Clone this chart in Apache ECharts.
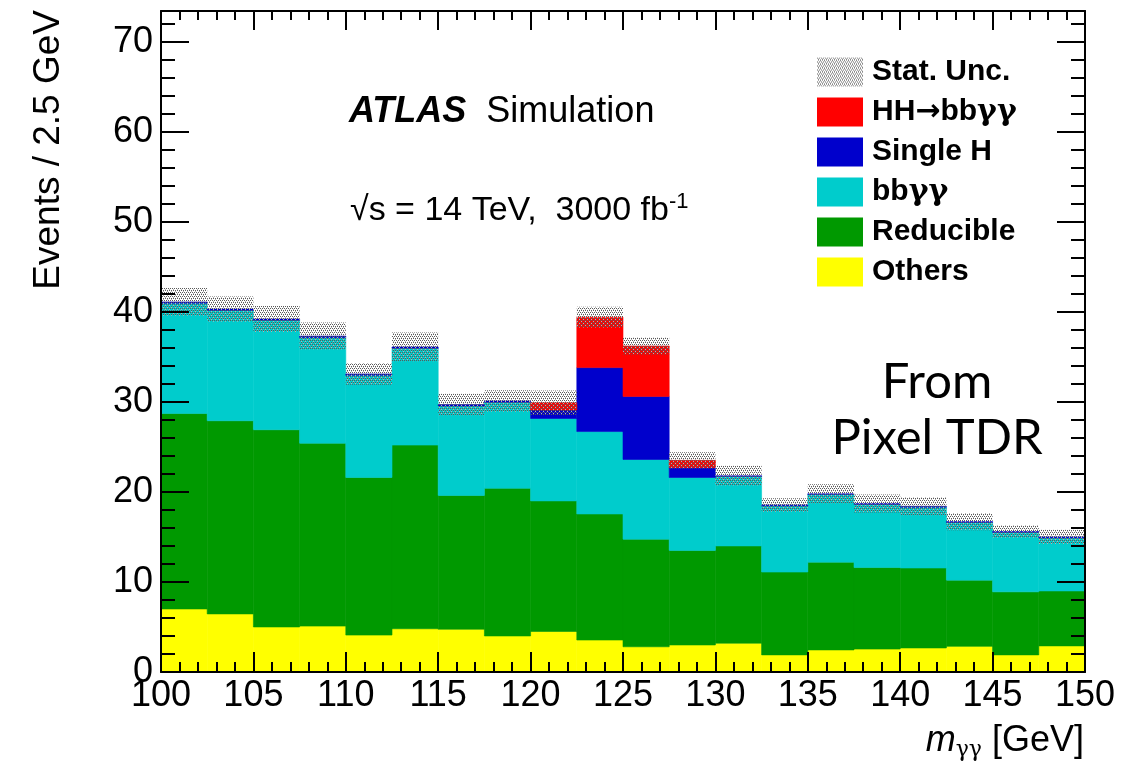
<!DOCTYPE html>
<html>
<head>
<meta charset="utf-8">
<script src="https://cdn.jsdelivr.net/npm/echarts@6/dist/echarts.min.js"></script>
<style>
  html, body { margin: 0; padding: 0; background: #fff; }
  #main { width: 1143px; height: 770px; }
</style>
</head>
<body>
<div id="main"></div>
<script>
// m_yy bin edges [GeV], 2.5 GeV bins
const binEdges = [100, 102.5, 105, 107.5, 110, 112.5, 115, 117.5, 120, 122.5, 125,
  127.5, 130, 132.5, 135, 137.5, 140, 142.5, 145, 147.5, 150];

// per-bin contributions (events / 2.5 GeV)
const others = [7.0, 6.45, 5.0, 5.1, 4.1, 4.8, 4.75, 4.0, 4.5, 3.55,
  2.8, 3.0, 3.2, 1.9, 2.45, 2.55, 2.67, 2.85, 1.9, 2.9];
const reducible = [21.7, 21.45, 21.9, 20.3, 17.5, 20.4, 14.85, 16.4, 14.5, 14.0,
  11.95, 10.5, 10.8, 9.2, 9.75, 9.05, 8.88, 7.35, 7.0, 6.1];
const bbyy = [12.25, 12.25, 12.15, 11.75, 11.35, 10.75, 9.95, 9.55, 9.15, 9.15,
  8.85, 8.1, 7.7, 7.35, 7.5, 7.0, 6.75, 6.4, 6.6, 5.9];
const singleH = [0.15, 0.15, 0.15, 0.15, 0.15, 0.15, 0.15, 0.15, 0.95, 7.1,
  7.0, 1.1, 0.1, 0.1, 0.1, 0.1, 0.1, 0.1, 0.1, 0.1];
const hhSignal = [0, 0, 0, 0, 0, 0, 0, 0, 0.8, 5.6,
  5.6, 0.8, 0, 0, 0, 0, 0, 0, 0, 0];
// half width of the stat. uncertainty band
const statUnc = [1.55, 1.4, 1.45, 1.5, 1.2, 1.6, 1.2, 1.2, 1.35, 1.15,
  0.95, 0.9, 1.1, 0.75, 1.05, 1.0, 1.0, 0.95, 0.7, 0.8];

const FONT = "'Liberation Sans', Arial, Helvetica, sans-serif";
const GREEK = "'DejaVu Serif', serif";

// small dotted fill, like the ROOT hatch used for the band
function dotPattern() {
  const c = document.createElement("canvas");
  c.width = 4;
  c.height = 4;
  const ctx = c.getContext("2d");
  ctx.fillStyle = "#5a5a5a";
  [[0, 0], [2, 0], [1, 2], [3, 2]].forEach((p) => ctx.fillRect(p[0], p[1], 1, 1));
  ctx.fillStyle = "#b4b4b4";
  [[1, 1], [3, 3]].forEach((p) => ctx.fillRect(p[0], p[1], 1, 1));
  return c;
}
const uncFill = { image: dotPattern(), repeat: "repeat" };

function rectFor(api) {
  const p0 = api.coord([api.value(0), api.value(2)]);
  const p1 = api.coord([api.value(1), api.value(3)]);
  return { x: p0[0], y: p1[1], width: p1[0] - p0[0], height: p0[1] - p1[1] };
}

function renderBin(params, api) {
  if (api.value(3) <= api.value(2)) return null;
  const color = api.visual("color");
  return {
    type: "rect",
    shape: rectFor(api),
    style: { fill: color, stroke: color, lineWidth: 0.6 },
  };
}

function renderUnc(params, api) {
  return { type: "rect", shape: rectFor(api), style: { fill: uncFill } };
}

// stack order, bottom first
const layers = [
  { name: "Others", values: others, color: "#ffff00" },
  { name: "Reducible", values: reducible, color: "#009900" },
  { name: "bbγγ", values: bbyy, color: "#00cccc" },
  { name: "Single H", values: singleH, color: "#0000cc" },
  { name: "HH→bbγγ", values: hhSignal, color: "#ff0000" },
];

const base = others.map(() => 0);
const series = layers.map((l) => {
  const data = l.values.map((v, i) => {
    const item = [binEdges[i], binEdges[i + 1], base[i], base[i] + v];
    base[i] += v;
    return item;
  });
  return {
    type: "custom",
    name: l.name,
    renderItem: renderBin,
    itemStyle: { color: l.color },
    encode: { x: [0, 1], y: [2, 3] },
    data: data,
  };
});
series.push({
  type: "custom",
  name: "Stat. Unc.",
  renderItem: renderUnc,
  itemStyle: { color: uncFill },
  encode: { x: [0, 1], y: [2, 3] },
  data: base.map((t, i) => [binEdges[i], binEdges[i + 1], t - statUnc[i], t + statUnc[i]]),
});

const lineStyle = { color: "#000", width: 2 };
function xAx(pos, labels, major, minor) {
  return {
    type: "value", position: pos, min: 100, max: 150, interval: 5, z: 5,
    axisLine: { show: true, onZero: false, lineStyle: lineStyle },
    axisTick: { inside: true, length: major, lineStyle: { color: "#000", width: 2 } },
    minorTick: { show: true, splitNumber: 5, length: minor, lineStyle: { color: "#000", width: 2 } },
    axisLabel: { show: labels, margin: 6, color: "#000", fontSize: 36, fontFamily: FONT },
    splitLine: { show: false },
  };
}
function yAx(pos, step, len, labels, line) {
  return {
    type: "value", position: pos, min: 0, max: 73.4, interval: step, z: 5,
    axisLine: { show: line, onZero: false, lineStyle: lineStyle },
    axisTick: { inside: true, length: len, lineStyle: { color: "#000", width: 2 } },
    axisLabel: { show: labels, showMaxLabel: false, margin: 8, color: "#000", fontSize: 36, fontFamily: FONT },
    splitLine: { show: false },
  };
}

const legendRich = {
  t: { fontSize: 30, fontWeight: "bold", fontFamily: FONT, color: "#000" },
  g: { fontSize: 30, fontFamily: GREEK, color: "#000" },
  r: { fontSize: 30, fontFamily: "'DejaVu Sans', sans-serif", color: "#000" },
};

var myChart = echarts.init(document.getElementById("main"));
myChart.setOption({
  animation: false,
  backgroundColor: "#fff",
  grid: { left: 161, right: 58, top: 11, bottom: 98 },
  xAxis: [xAx("bottom", true, 20, 10), xAx("top", false, 19, 9)],
  yAxis: [
    yAx("left", 10, 28, true, true),
    yAx("left", 2, 14, false, false),
    yAx("right", 10, 28, false, true),
    yAx("right", 2, 14, false, false),
  ],
  legend: {
    orient: "vertical",
    left: 817,
    top: 57,
    padding: 0,
    icon: "rect",
    itemWidth: 46,
    itemHeight: 29,
    itemGap: 10,
    selectedMode: false,
    formatter: function (name) {
      return name
        .split(/(γγ|→)/)
        .filter((s) => s !== "")
        .map((s) => (s === "γγ" ? "{g|γγ}" : s === "→" ? "{r|→}" : "{t|" + s + "}"))
        .join("");
    },
    textStyle: { color: "#000", fontSize: 30, fontWeight: "bold", fontFamily: FONT, padding: [0, 0, 0, 4], rich: legendRich },
    data: [
      { name: "Stat. Unc.", itemStyle: { color: uncFill } },
      "HH→bbγγ", "Single H", "bbγγ", "Reducible", "Others",
    ],
  },
  graphic: [
    {
      type: "text", x: 49, y: 10, rotation: Math.PI / 2,
      style: { text: "Events / 2.5 GeV", fill: "#000", font: "37px " + FONT, align: "right", verticalAlign: "middle" },
    },
    {
      type: "text", x: 1084, y: 741,
      style: {
        text: "{m|m}{s|γγ}{n| [GeV]}", align: "right", verticalAlign: "middle", fill: "#000",
        rich: {
          m: { fontSize: 36, fontStyle: "italic", fontFamily: FONT, lineHeight: 40 },
          s: { fontSize: 22, fontFamily: GREEK, lineHeight: 22, verticalAlign: "bottom" },
          n: { fontSize: 36, fontFamily: FONT, lineHeight: 40 },
        },
      },
    },
    {
      type: "text", x: 349, y: 112,
      style: {
        text: "{a|ATLAS}{b|  Simulation}", verticalAlign: "middle", fill: "#000",
        rich: {
          a: { fontSize: 36, fontWeight: "bold", fontStyle: "italic", fontFamily: FONT },
          b: { fontSize: 36, fontFamily: FONT },
        },
      },
    },
    {
      type: "text", x: 350, y: 211,
      style: {
        text: "{a|√s = 14 TeV,  3000 fb}{b|-1}", verticalAlign: "middle", fill: "#000",
        rich: {
          a: { fontSize: 34, fontFamily: FONT, lineHeight: 40 },
          b: { fontSize: 22, fontFamily: FONT, lineHeight: 22, verticalAlign: "top" },
        },
      },
    },
    {
      type: "text", x: 937, y: 382,
      style: { text: "From", fill: "#000", font: "49px Lato, 'Open Sans', sans-serif", align: "center", verticalAlign: "middle" },
    },
    {
      type: "text", x: 937, y: 438,
      style: { text: "Pixel TDR", fill: "#000", font: "49px Lato, 'Open Sans', sans-serif", align: "center", verticalAlign: "middle" },
    },
  ],
  series: series,
});
</script>
</body>
</html>
